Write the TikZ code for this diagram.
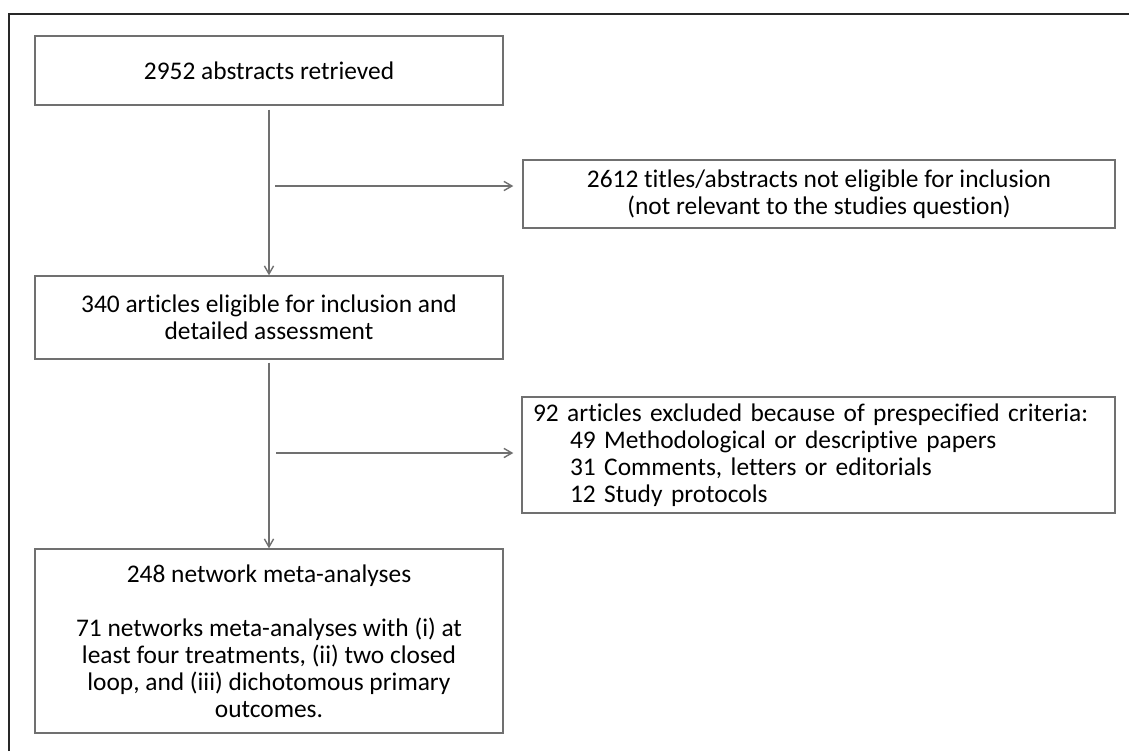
\documentclass[tikz,border=0pt]{standalone}
\usepackage{fontspec}
\setmainfont[Ligatures=NoCommon]{Carlito}
\usetikzlibrary{positioning,arrows.meta}

\definecolor{boxgray}{RGB}{112,112,112}
\definecolor{framegray}{RGB}{40,40,40}

\tikzset{
  flowbox/.style={draw=boxgray, line width=0.7pt, align=center, inner sep=0pt,
    font=\fontsize{12.7}{13.5}\selectfont},
  flowarrow/.style={draw=boxgray, line width=0.7pt,
    -{Straight Barb[length=4pt,width=4.6pt]}},
  frame/.style={draw=framegray, line width=0.8pt}
}

\begin{document}
\begin{tikzpicture}[x=0.5pt,y=-0.5pt]
  \useasboundingbox (0,0) rectangle (1129,751);
  \draw[frame] (8.7,751) -- (8.7,14) -- (1129,14);

  % main column
  \node[flowbox, minimum width=234pt, minimum height=34.5pt] (retrieved) at (269,70.5)
    {2952 abstracts retrieved};
  \node[flowbox, minimum width=234pt, minimum height=41.5pt] (eligible) at (269,317.5)
    {340 articles eligible for inclusion and\\detailed assessment};
  \node[flowbox, minimum width=234pt, minimum height=92pt] (nma) at (269,641)
    {248 network meta-analyses\\[13.5pt]
     71 networks meta-analyses with (i) at\\
     least four treatments, (ii) two closed\\
     loop, and (iii) dichotomous primary\\
     outcomes.};

  % exclusions
  \node[flowbox, minimum width=296pt, minimum height=34pt] (notelig) at (819,194)
    {2612 titles/abstracts not eligible for inclusion\\(not relevant to the studies question)};
  \node[flowbox, align=left, text width=285.5pt, inner xsep=5.5pt, minimum height=58pt]
    (excluded) at (818.5,455)
    {92 articles excluded because of prespecified criteria:\\
     \hspace*{18.5pt}49 Methodological or descriptive papers\\
     \hspace*{18.5pt}31 Comments, letters or editorials\\
     \hspace*{18.5pt}12 Study protocols};

  \coordinate (split1) at (275,186);
  \coordinate (split2) at (276,453);

  \draw[flowarrow] ([yshift=-2pt]retrieved.south) -- (eligible.north);
  \draw[flowarrow] ([yshift=-1.5pt]eligible.south) -- (nma.north);
  \draw[flowarrow, shorten >=4.5pt] (split1) -- (split1 -| notelig.west);
  \draw[flowarrow, shorten >=4pt] (split2) -- (split2 -| excluded.west);
\end{tikzpicture}
\end{document}
